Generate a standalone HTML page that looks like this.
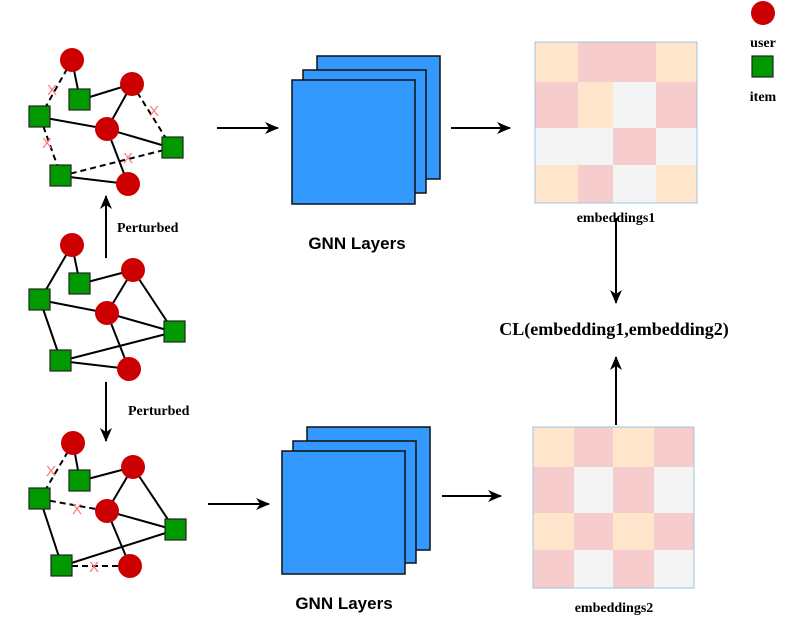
<!DOCTYPE html>
<html><head><meta charset="utf-8"><style>
html,body{margin:0;padding:0;background:#fff;}
svg{display:block;}
.s{font-family:"Liberation Serif",serif;font-weight:bold;}
.a{font-family:"Liberation Sans",sans-serif;font-weight:bold;}
</style></head><body>
<svg width="797" height="627" viewBox="0 0 797 627" xmlns="http://www.w3.org/2000/svg">
<defs>
<marker id="ah" viewBox="0 0 14 12" refX="13" refY="6" markerWidth="14" markerHeight="12" markerUnits="userSpaceOnUse" orient="auto">
<path d="M0,0 L14,6 L0,12 L4,6 z" fill="#000"/></marker>
</defs>
<g stroke="#000" stroke-width="2" fill="none">
<path d="M72,60L80,100M80,100L132,84M40,117L107,129M107,129L172,148M132,84L107,129M107,129L128,184M61,176L128,184"/>
<path stroke-dasharray="6,4" d="M72,60L40,117M40,117L61,176M132,84L172,148M61,176L172,148"/>
<path d="M72,245L40,300M72,245L80,284M80,284L133,270M40,300L107,313M107,313L174,332M133,270L107,313M133,270L174,332M107,313L129,369M40,300L61,361M61,361L174,332M61,361L129,369"/>
<path d="M73,443L80,481M80,481L133,467M133,467L107,511M133,467L175,530M107,511L175,530M107,511L130,566M40,499L62,566M62,566L175,530"/>
<path stroke-dasharray="6,4" d="M73,443L40,499M40,499L107,511M62,566L130,566"/>
</g>
<g fill="#f77" font-family="Liberation Sans,sans-serif" font-size="15" text-anchor="middle">
<text x="52" y="95">X</text><text x="47" y="148">X</text><text x="154" y="116">X</text><text x="128" y="163">X</text>
<text x="51" y="476">X</text><text x="77" y="514">X</text><text x="94" y="572">X</text>
</g>
<g fill="#cc0000">
<circle cx="72" cy="60" r="12"/><circle cx="132" cy="84" r="12"/><circle cx="107" cy="129" r="12"/><circle cx="128" cy="184" r="12"/>
<circle cx="72" cy="245" r="12"/><circle cx="133" cy="270" r="12"/><circle cx="107" cy="313" r="12"/><circle cx="129" cy="369" r="12"/>
<circle cx="73" cy="443" r="12"/><circle cx="133" cy="467" r="12"/><circle cx="107" cy="511" r="12"/><circle cx="130" cy="566" r="12"/>
<circle cx="763" cy="13" r="12"/>
</g>
<g fill="#009900" stroke="#222" stroke-width="1.2">
<rect x="69" y="89" width="21" height="21"/><rect x="29" y="106" width="21" height="21"/><rect x="162" y="137" width="21" height="21"/><rect x="50" y="165" width="21" height="21"/>
<rect x="69" y="273" width="21" height="21"/><rect x="29" y="289" width="21" height="21"/><rect x="164" y="321" width="21" height="21"/><rect x="50" y="350" width="21" height="21"/>
<rect x="69" y="470" width="21" height="21"/><rect x="29" y="488" width="21" height="21"/><rect x="165" y="519" width="21" height="21"/><rect x="51" y="555" width="21" height="21"/>
<rect x="752" y="56" width="21" height="21"/>
</g>
<g stroke="#000" stroke-width="2" marker-end="url(#ah)">
<line x1="106" y1="258" x2="106" y2="196"/>
<line x1="106" y1="382" x2="106" y2="441"/>
<line x1="217" y1="128" x2="278" y2="128"/>
<line x1="451" y1="128" x2="510" y2="128"/>
<line x1="208" y1="504" x2="269" y2="504"/>
<line x1="442" y1="496" x2="501" y2="496"/>
<line x1="616" y1="218" x2="616" y2="303"/>
<line x1="616" y1="425" x2="616" y2="357"/>
</g>
<text class="s" x="117" y="232" font-size="14">Perturbed</text>
<text class="s" x="128" y="415" font-size="14">Perturbed</text>
<g fill="#3399ff" stroke="#111" stroke-width="1.5">
<rect x="317" y="56" width="123" height="123"/><rect x="303" y="70" width="123" height="123"/><rect x="292" y="80" width="123" height="124"/>
<rect x="307" y="427" width="123" height="123"/><rect x="293" y="441" width="123" height="122"/><rect x="282" y="451" width="123" height="123"/>
</g>
<text class="a" x="357" y="249" font-size="17" text-anchor="middle">GNN Layers</text>
<text class="a" x="344" y="609" font-size="17" text-anchor="middle">GNN Layers</text>
<g stroke="none">
<rect x="535" y="42" width="43" height="40" fill="#fee5cc"/><rect x="578" y="42" width="78" height="40" fill="#f6cccc"/><rect x="656" y="42" width="41" height="40" fill="#fee5cc"/>
<rect x="535" y="82" width="43" height="46" fill="#f6cccc"/><rect x="578" y="82" width="35" height="46" fill="#fee5cc"/><rect x="613" y="82" width="43" height="46" fill="#f4f4f4"/><rect x="656" y="82" width="41" height="46" fill="#f6cccc"/>
<rect x="535" y="128" width="78" height="37" fill="#f4f4f4"/><rect x="613" y="128" width="43" height="37" fill="#f6cccc"/><rect x="656" y="128" width="41" height="37" fill="#f4f4f4"/>
<rect x="535" y="165" width="43" height="38" fill="#fee5cc"/><rect x="578" y="165" width="35" height="38" fill="#f6cccc"/><rect x="613" y="165" width="43" height="38" fill="#f4f4f4"/><rect x="656" y="165" width="41" height="38" fill="#fee5cc"/>
</g>
<rect x="535" y="42" width="162" height="161" fill="none" stroke="#9ec5e0" stroke-width="1"/>
<g>
<rect x="533" y="427" width="41" height="40" fill="#fee5cc"/><rect x="574" y="427" width="39" height="40" fill="#f6cccc"/><rect x="613" y="427" width="41" height="40" fill="#fee5cc"/><rect x="654" y="427" width="40" height="40" fill="#f6cccc"/>
<rect x="533" y="467" width="41" height="46" fill="#f6cccc"/><rect x="574" y="467" width="39" height="46" fill="#f4f4f4"/><rect x="613" y="467" width="41" height="46" fill="#f6cccc"/><rect x="654" y="467" width="40" height="46" fill="#f4f4f4"/>
<rect x="533" y="513" width="41" height="37" fill="#fee5cc"/><rect x="574" y="513" width="39" height="37" fill="#f6cccc"/><rect x="613" y="513" width="41" height="37" fill="#fee5cc"/><rect x="654" y="513" width="40" height="37" fill="#f6cccc"/>
<rect x="533" y="550" width="41" height="38" fill="#f6cccc"/><rect x="574" y="550" width="39" height="38" fill="#f4f4f4"/><rect x="613" y="550" width="41" height="38" fill="#f6cccc"/><rect x="654" y="550" width="40" height="38" fill="#f4f4f4"/>
</g>
<rect x="533" y="427" width="161" height="161" fill="none" stroke="#9ec5e0" stroke-width="1"/>
<text class="s" x="616" y="222" font-size="14" text-anchor="middle">embeddings1</text>
<text class="s" x="614" y="612" font-size="14" text-anchor="middle">embeddings2</text>
<text class="s" x="614" y="335" font-size="18" text-anchor="middle">CL(embedding1,embedding2)</text>
<text class="s" x="763" y="47" font-size="14" text-anchor="middle">user</text>
<text class="s" x="763" y="101" font-size="14" text-anchor="middle">item</text>
</svg>
</body></html>
